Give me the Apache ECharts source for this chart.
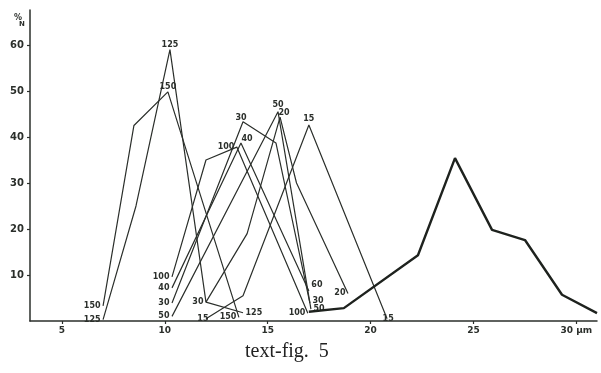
<!DOCTYPE html>
<html><head><meta charset="utf-8">
<script src="https://cdn.jsdelivr.net/npm/echarts@6/dist/echarts.min.js"></script>
<style>html,body{margin:0;padding:0;background:#fff}#c{width:601px;height:373px}</style>
</head><body><div id="c"></div>
<script>
// ---- data (size in µm, frequency in %) ----
const xTicks = [5, 10, 15, 20, 25, 30];
const yTicks = [10, 20, 30, 40, 50, 60];

const s125x = [7.0, 8.6, 10.25, 12.0, 13.8];
const s125y = [0.3, 25, 59, 4.1, 1.8];
const s125l = ['125', '', '125', '30', '125'];

const s150x = [7.0, 8.5, 10.15, 13.6];
const s150y = [3.3, 42.5, 49.8, 0.8];
const s150l = ['150', '', '150', '150'];

const s100x = [10.35, 12.0, 13.5, 16.95];
const s100y = [9.6, 35, 37.8, 1.7];
const s100l = ['100', '', '100', '100'];

const s40x = [10.35, 13.7, 17.0];
const s40y = [7.2, 38.7, 6.5];
const s40l = ['40', '40', '60'];

const s30x = [10.35, 13.8, 15.4, 17.05];
const s30y = [3.9, 43.3, 38.7, 3.9];
const s30l = ['30', '30', '', '30'];

const s50x = [10.35, 15.5, 17.1];
const s50y = [1.0, 45.5, 2.6];
const s50l = ['50', '50', '50'];

const s20x = [12.0, 14.0, 15.6, 16.4, 18.9];
const s20y = [4.1, 19, 44.3, 30, 6];
const s20l = ['', '', '20', '', '20'];

const s15x = [12.0, 13.8, 17.0, 20.8];
const s15y = [0.5, 5.5, 42.6, 0.5];
const s15l = ['15', '', '15', '15'];

const thickX = [17.0, 18.7, 22.3, 24.1, 25.9, 27.5, 29.3, 31.0];
const thickY = [2.0, 2.8, 14.3, 35.4, 19.8, 17.6, 5.7, 1.7];

// ---- chart ----
const INK = '#2b2f2b';
const labelFont = {fontFamily: 'DejaVu Sans', fontWeight: 'bold', fontSize: 8, color: INK};

const posMap = {
  '125': ['left', null, 'top', 'left', 'right'],
  '150': ['left', null, 'top', 'left'],
  '100': ['left', null, 'left', 'left'],
  '40': ['left', 'top', 'right'],
  '30': ['left', 'top', null, 'right'],
  '50': ['left', 'top', 'right'],
  '20': [null, null, 'right', null, 'left'],
  '15': ['left', null, 'top', 'right']
};
const offs = {'40-1': [6, 2], '20-2': [-4, -4], '40-2': [0, -6], '30-3': [0, -2],
  '15-3': [-7, 0], '15-0': [5, 0], '30-1': [-2, 3], '125-2': [0, 2], '150-2': [0, 2]};

function mk(name, xs, ys, ls) {
  return {
    type: 'line', name: name, symbol: 'circle', symbolSize: 1, showSymbol: true,
    itemStyle: {color: 'rgba(0,0,0,0)'},
    lineStyle: {color: INK, width: 1.2}, z: 2,
    label: {show: false},
    data: xs.map((x, i) => {
      const lab = ls[i];
      const o = {value: [x, ys[i]]};
      if (lab) {
        o.label = Object.assign({show: true, formatter: lab,
          position: (posMap[name] && posMap[name][i]) || 'top',
          distance: 2, offset: offs[name + '-' + i] || [0, 0]}, labelFont);
      }
      return o;
    })
  };
}

const series = [
  mk('125', s125x, s125y, s125l),
  mk('150', s150x, s150y, s150l),
  mk('100', s100x, s100y, s100l),
  mk('40', s40x, s40y, s40l),
  mk('30', s30x, s30y, s30l),
  mk('50', s50x, s50y, s50l),
  mk('20', s20x, s20y, s20l),
  mk('15', s15x, s15y, s15l),
  {type: 'line', name: 'thick', symbol: 'none', lineStyle: {color: '#1e221e', width: 2.4}, z: 3,
   data: thickX.map((x, i) => [x, thickY[i]])}
];

const chart = echarts.init(document.getElementById('c'), null, {renderer: 'canvas'});
chart.setOption({
  animation: false,
  backgroundColor: '#fff',
  grid: {left: 30, right: 4, top: 10, bottom: 52, containLabel: false},
  xAxis: {
    type: 'value', min: 3.45, max: 31.0,
    axisLine: {lineStyle: {color: INK, width: 1.5}},
    axisTick: {show: true, length: 3, inside: false, customValues: xTicks, lineStyle: {color: INK, width: 1.2}},
    axisLabel: Object.assign({customValues: xTicks, margin: 5,
      formatter: v => (v === 30 ? '30 µm' : String(v))}, labelFont, {fontSize: 9}),
    splitLine: {show: false}
  },
  yAxis: {
    type: 'value', min: 0, max: 67.6,
    axisLine: {show: true, lineStyle: {color: INK, width: 1.5}},
    axisTick: {show: true, length: 3, customValues: yTicks, lineStyle: {color: INK, width: 1.2}},
    axisLabel: Object.assign({customValues: yTicks, margin: 6}, labelFont, {fontSize: 10}),
    splitLine: {show: false}
  },
  graphic: [
    {type: 'text', left: 14, top: 14, style: {text: '%', font: 'bold 8px "DejaVu Sans"', fill: INK}},
    {type: 'text', left: 19, top: 21, style: {text: 'N', font: 'bold 7px "DejaVu Sans"', fill: INK}},
    {type: 'text', left: 245, top: 342, style: {text: 'text-fig.  5', font: '20px "Liberation Serif"', fill: '#222'}}
  ],
  series: series
});
</script>
</body></html>
